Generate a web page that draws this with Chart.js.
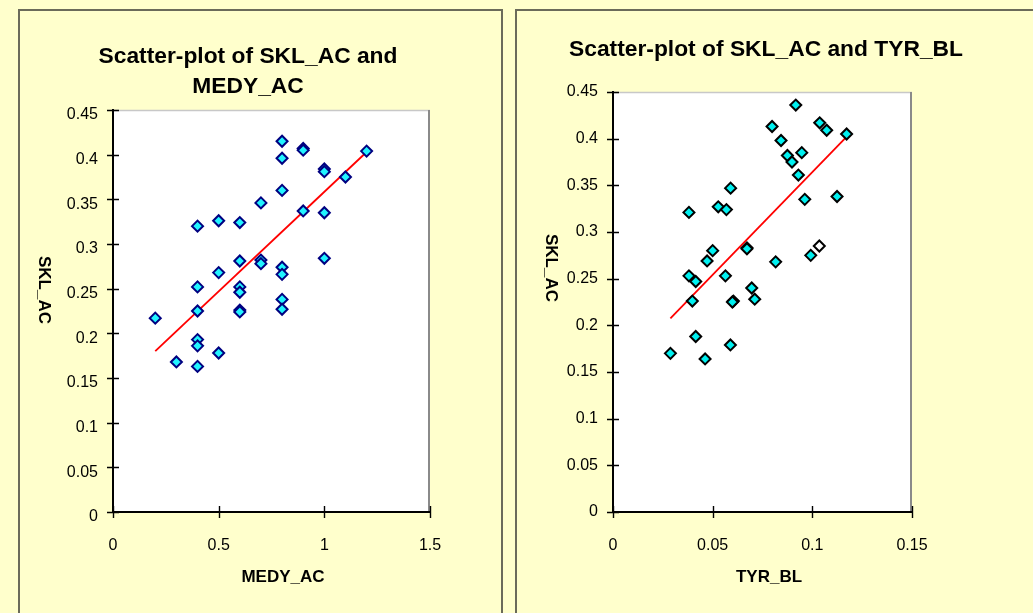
<!DOCTYPE html>
<html>
<head>
<meta charset="utf-8">
<script src="https://cdn.jsdelivr.net/npm/chart.js@4/dist/chart.umd.min.js"></script>
<style>
  html, body { margin: 0; padding: 0; }
  body { width: 1033px; height: 613px; background: #FFFFCC; position: relative; overflow: hidden; }
  .panel { position: absolute; background: #FFFFCC; box-sizing: border-box; }
  #p1 { left: 18px; top: 9px; width: 485px; height: 640px; border: 2px solid #6b6b5a; }
  #p2 { left: 515px; top: 9px; width: 540px; height: 640px; border: 2px solid #6b6b5a; }
  canvas { position: absolute; top: 0; }
  #c1 { left: 0; }
  #c2 { left: 505px; }
</style>
</head>
<body>
<div class="panel" id="p1"></div>
<div class="panel" id="p2"></div>
<canvas id="c1" width="508" height="613"></canvas>
<canvas id="c2" width="528" height="613"></canvas>
<script>
// ---------- data ----------
const medyAC = [0.2,0.3,0.4,0.4,0.4,0.4,0.4,0.4,0.5,0.5,0.5,0.6,0.6,0.6,0.6,0.6,0.6,0.7,0.7,0.7,0.8,0.8,0.8,0.8,0.8,0.8,0.8,0.9,0.9,0.9,1.0,1.0,1.0,1.0,1.1,1.2];
const sklAC_vsMedy = [0.217,0.168,0.320,0.252,0.225,0.193,0.186,0.163,0.326,0.268,0.178,0.324,0.281,0.252,0.246,0.226,0.224,0.346,0.282,0.278,0.415,0.396,0.360,0.274,0.266,0.238,0.227,0.407,0.405,0.337,0.384,0.381,0.335,0.284,0.375,0.404];
const medyTrendX = [0.2, 1.2];
const medyTrendY = [0.180, 0.403];

const tyrBL = [0.0917,0.0798,0.1037,0.1072,0.1172,0.0843,0.0875,0.0947,0.0898,0.0930,0.0590,0.0962,0.1124,0.0381,0.0528,0.0569,0.0672,0.0672,0.1035,0.0500,0.0472,0.0816,0.0992,0.0381,0.0415,0.0564,0.0696,0.0398,0.0604,0.0599,0.0711,0.0415,0.0589,0.0288,0.0462];
const sklAC_vsTyr = [0.436,0.413,0.417,0.409,0.405,0.398,0.382,0.385,0.375,0.361,0.347,0.335,0.338,0.321,0.327,0.324,0.283,0.282,0.285,0.280,0.269,0.268,0.275,0.253,0.247,0.253,0.240,0.226,0.226,0.225,0.228,0.188,0.179,0.170,0.164];
const tyrHighlightIndex = 18;
const tyrTrendX = [0.0288, 0.1169];
const tyrTrendY = [0.2075, 0.4014];

const yTickLabels = ['0','0.05','0.1','0.15','0.2','0.25','0.3','0.35','0.4','0.45'];
const medyTickLabels = ['0','0.5','1','1.5'];
const tyrTickLabels = ['0','0.05','0.1','0.15'];

const title1Lines = ['Scatter-plot of SKL_AC and', 'MEDY_AC'];
const title2Lines = ['Scatter-plot of SKL_AC and TYR_BL'];
const yAxisName = 'SKL_AC';
const xAxisName1 = 'MEDY_AC';
const xAxisName2 = 'TYR_BL';

// ---------- helpers ----------
const FONT = '"Liberation Sans", Arial, sans-serif';
const toPts = (xs, ys) => xs.map((x, i) => ({x, y: ys[i]}));

const panelPlugin = {
  id: 'panelDeco',
  beforeDraw(chart, args, o) {
    const {ctx, chartArea: a} = chart;
    ctx.save();
    ctx.fillStyle = '#FFFFFF';
    ctx.fillRect(a.left, a.top, a.right - a.left, a.bottom - a.top);
    ctx.strokeStyle = '#c8c8c8';
    ctx.lineWidth = 1.5;
    ctx.beginPath();
    ctx.moveTo(a.left, a.top + 0.5);
    ctx.lineTo(a.right, a.top + 0.5);
    ctx.stroke();
    ctx.strokeStyle = '#8a8a8a';
    ctx.lineWidth = 2;
    ctx.beginPath();
    ctx.moveTo(a.right - 1, a.top);
    ctx.lineTo(a.right - 1, a.bottom);
    ctx.stroke();
    ctx.restore();
  },
  afterDraw(chart, args, o) {
    const {ctx} = chart;
    const xs = chart.scales.x, ys = chart.scales.y;
    ctx.save();
    // crossing tick marks
    ctx.strokeStyle = '#000';
    ctx.lineWidth = 1.4;
    ctx.beginPath();
    ys.ticks.forEach(t => {
      const py = Math.round(ys.getPixelForValue(t.value)) + 0.5;
      ctx.moveTo(xs.left - 6, py);
      ctx.lineTo(xs.left + 6, py);
    });
    xs.ticks.forEach(t => {
      const px = Math.round(xs.getPixelForValue(t.value)) + 0.5;
      ctx.moveTo(px, ys.bottom - 6);
      ctx.lineTo(px, ys.bottom + 6);
    });
    ctx.stroke();
    // texts
    ctx.fillStyle = '#000';
    ctx.textAlign = 'center';
    ctx.textBaseline = 'middle';
    ctx.font = 'bold 22.8px ' + FONT;
    o.title.lines.forEach((ln, i) => ctx.fillText(ln, o.title.x, o.title.y + i * 30));
    ctx.font = 'bold 17px ' + FONT;
    ctx.fillText(o.xTitle.text, o.xTitle.x, o.xTitle.y);
    ctx.translate(o.yTitle.x, o.yTitle.y);
    ctx.rotate(Math.PI / 2);
    ctx.fillText(o.yTitle.text, 0, 0);
    ctx.restore();
  }
};

function makeChart(id, cfg) {
  const tickFont = {family: FONT, size: 16};
  return new Chart(document.getElementById(id), {
    type: 'scatter',
    data: {
      datasets: [
        {
          data: cfg.points,
          pointStyle: 'rectRot',
          pointRadius: 5.5,
          pointHoverRadius: 5.5,
          pointBorderWidth: 2,
          pointBackgroundColor: cfg.fill,
          pointBorderColor: cfg.edge,
          showLine: false
        },
        {
          data: cfg.trend,
          showLine: true,
          borderColor: '#FF0000',
          borderWidth: 1.8,
          pointRadius: 0,
          pointHoverRadius: 0,
          fill: false
        }
      ]
    },
    options: {
      responsive: false,
      animation: false,
      devicePixelRatio: 1,
      events: [],
      layout: {padding: {left: 0, top: cfg.top, right: cfg.padRight, bottom: 0}},
      plugins: {
        legend: {display: false},
        tooltip: {enabled: false},
        title: {display: false},
        panelDeco: cfg.texts
      },
      scales: {
        x: {
          type: 'linear',
          min: 0, max: cfg.xMax,
          afterFit(s) { s.height = 101; },
          afterBuildTicks(s) { s.ticks = cfg.xTicks.map(v => ({value: v})); },
          grid: {display: false, drawTicks: false},
          border: {display: true, color: '#000', width: 2},
          ticks: {
            font: tickFont, color: '#000', padding: 24, maxRotation: 0,
            callback: (v, i) => cfg.xLabels[i]
          }
        },
        y: {
          type: 'linear',
          min: 0, max: 0.45,
          afterFit(s) { s.width = cfg.yWidth; },
          afterBuildTicks(s) { s.ticks = cfg.yTicks.map(v => ({value: v})); },
          grid: {display: false, drawTicks: false},
          border: {display: true, color: '#000', width: 2},
          ticks: {
            font: tickFont, color: '#000', padding: 15, labelOffset: cfg.yLabelOffset,
            callback: (v, i) => yTickLabels[i]
          }
        }
      }
    },
    plugins: [panelPlugin]
  });
}

const yTickValues = yTickLabels.map(Number);

makeChart('c1', {
  points: toPts(medyAC, sklAC_vsMedy),
  trend: toPts(medyTrendX, medyTrendY),
  fill: '#22F4FF',
  edge: '#000080',
  xMax: 1.5,
  xTicks: medyTickLabels.map(Number),
  xLabels: medyTickLabels,
  yTicks: yTickValues,
  yWidth: 113,
  top: 110,
  padRight: 508 - 430,
  yLabelOffset: 5,
  texts: {
    title: {lines: title1Lines, x: 248, y: 57},
    xTitle: {text: xAxisName1, x: 283, y: 577},
    yTitle: {text: yAxisName, x: 44, y: 290}
  }
});

makeChart('c2', {
  points: toPts(tyrBL, sklAC_vsTyr),
  trend: toPts(tyrTrendX, tyrTrendY),
  fill: (ctx) => ctx.dataIndex === tyrHighlightIndex ? '#FFFFFF' : '#00F0F0',
  edge: '#000000',
  xMax: 0.15,
  xTicks: tyrTickLabels.map(Number),
  xLabels: tyrTickLabels,
  yTicks: yTickValues,
  yWidth: 613 - 505,
  top: 92,
  padRight: 528 - 407,
  yLabelOffset: 0,
  texts: {
    title: {lines: title2Lines, x: 766 - 505, y: 50},
    xTitle: {text: xAxisName2, x: 769 - 505, y: 577},
    yTitle: {text: yAxisName, x: 551 - 505, y: 268}
  }
});
</script>
</body>
</html>
